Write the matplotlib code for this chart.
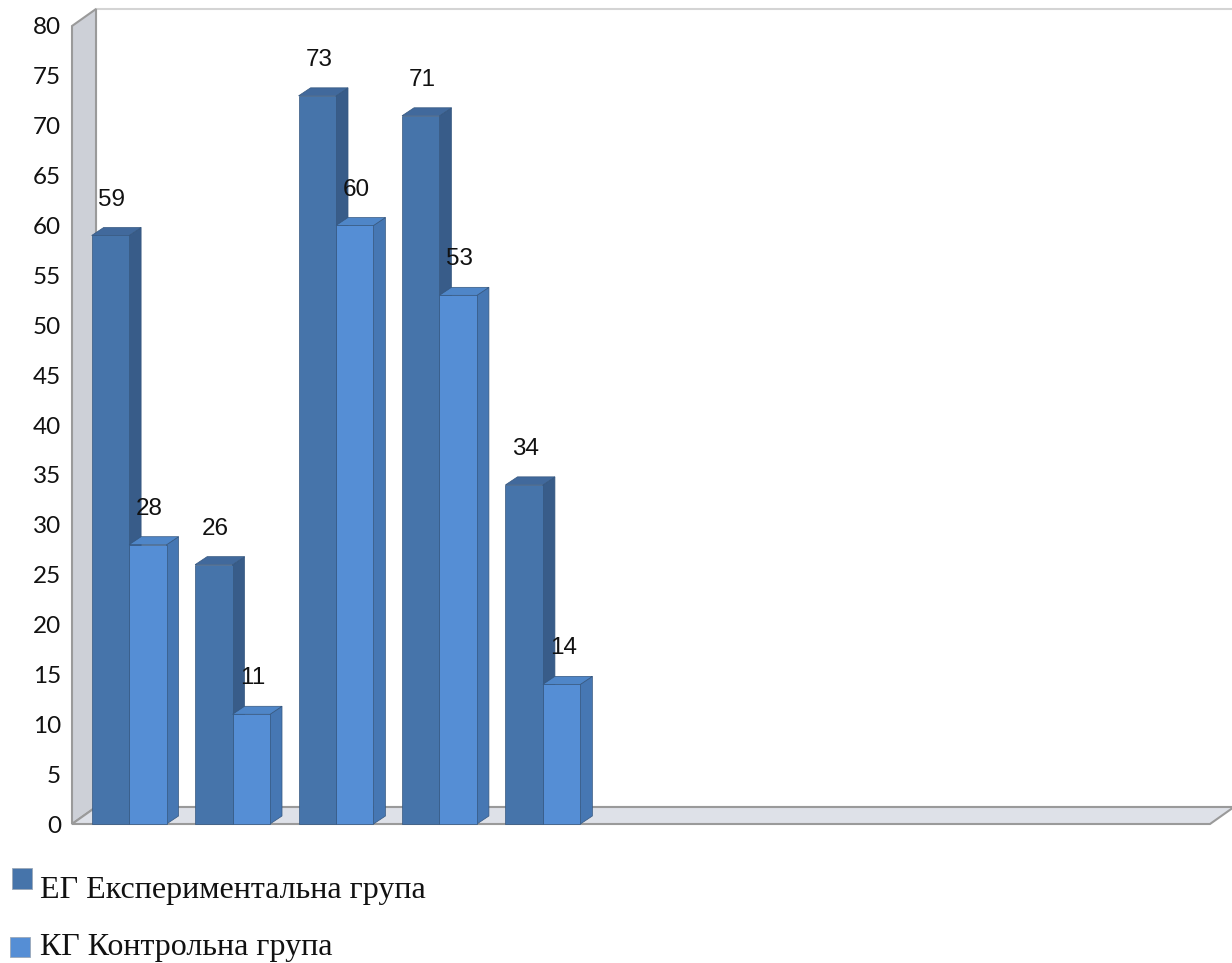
import matplotlib
matplotlib.use("Agg")
import matplotlib.pyplot as plt
from matplotlib.patches import Polygon, Rectangle

# data
eg_values = [59, 26, 73, 71, 34]
kg_values = [28, 11, 60, 53, 14]
n_slots = 11
yticks = list(range(0, 81, 5))
legend_labels = ["ЕГ Експериментальна група", "КГ Контрольна група"]

eg_colors = ("#4674AA", "#41699C", "#385C89")   # front, top, side
kg_colors = ("#558ED5", "#4F86C8", "#4677B3")

W, H = 1232, 963
fig = plt.figure(figsize=(W / 100, H / 100), dpi=100)
x0, x1, y0, y1 = 72, 1210, 824, 26
ax = fig.add_axes([x0 / W, (H - y0) / H, (x1 - x0) / W, (y0 - y1) / H])
ax.set_xlim(0, n_slots)
ax.set_ylim(0, 80)
for s in ax.spines.values():
    s.set_visible(False)
ax.set_xticks([])
ax.set_yticks(yticks)
ax.set_yticklabels([str(v) for v in yticks], fontsize=17.5, family="Lato", color="#111111")
ax.tick_params(axis="y", length=0, pad=8)
ax.patch.set_alpha(0)

# pixel -> data helpers
px_x = n_slots / (x1 - x0)
px_y = 80 / (y0 - y1)
wdx, wdy = 24 * px_x, 17 * px_y   # wall depth
bdx, bdy = 12 * px_x, 8 * px_y    # bar depth

# back wall
ax.add_patch(Rectangle((wdx, wdy), n_slots, 80, facecolor="white",
                       edgecolor="#D4D4D4", lw=1.5, clip_on=False, zorder=1))
# left wall
ax.add_patch(Polygon([(0, 0), (0, 80), (wdx, 80 + wdy), (wdx, wdy)], closed=True,
                     facecolor="#CDD0D7", edgecolor="#9A9A9A", lw=1.5, clip_on=False, zorder=2))
# floor
ax.add_patch(Polygon([(0, 0), (n_slots, 0), (n_slots + wdx, wdy), (wdx, wdy)], closed=True,
                     facecolor="#DEE1E8", edgecolor="#9A9A9A", lw=1.5, clip_on=False, zorder=2))


def bar3d(x, w, h, cols):
    front, top, side = cols
    ec = "#35577F"
    ax.add_patch(Polygon([(x + w, 0), (x + w + bdx, bdy), (x + w + bdx, h + bdy), (x + w, h)],
                         closed=True, facecolor=side, edgecolor=ec, lw=0.5, zorder=3, clip_on=False))
    ax.add_patch(Polygon([(x, h), (x + w, h), (x + w + bdx, h + bdy), (x + bdx, h + bdy)],
                         closed=True, facecolor=top, edgecolor=ec, lw=0.5, zorder=3, clip_on=False))
    ax.add_patch(Rectangle((x, 0), w, h, facecolor=front, edgecolor=ec, lw=0.5, zorder=3, clip_on=False))
    ax.text(x + w / 2 + 1.5 * px_x, h + 3.6, str(h), ha="center", va="center", fontsize=17.5,
            family="Liberation Sans", color="#111111", zorder=5)


bw = 0.362
for i, (e, k) in enumerate(zip(eg_values, kg_values)):
    bar3d(i + 0.19, bw, e, eg_colors)
    bar3d(i + 0.19 + bw, bw, k, kg_colors)

# legend
boxes = [(12, 868, 20, 21), (10, 937, 20, 20)]
baselines = [898, 955]
for lab, col, (bx, by, bwid, bh), bl in zip(legend_labels, [eg_colors[0], kg_colors[0]], boxes, baselines):
    fig.patches.append(Rectangle((bx / W, 1 - (by + bh) / H), bwid / W, bh / H,
                                 transform=fig.transFigure, facecolor=col,
                                 edgecolor="#9AA8B8", lw=0.6))
    fig.text(40 / W, 1 - bl / H, lab, fontsize=23, family="Liberation Serif",
             color="#111111", va="baseline")

fig.savefig("out.png", dpi=100)
